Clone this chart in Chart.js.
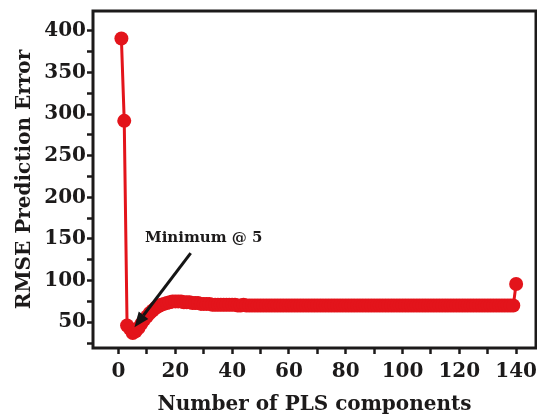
<!DOCTYPE html>
<html>
<head>
<meta charset="utf-8">
<script src="https://cdn.jsdelivr.net/npm/chart.js@4/dist/chart.umd.min.js"></script>
<style>
  html, body { margin: 0; padding: 0; background: #fff; }
  #wrap { width: 537px; height: 417px; }
</style>
</head>
<body>
<div id="wrap"><canvas id="rmseChart" width="537" height="417"></canvas></div>
<script>
// number of PLS components (x) and RMSE prediction error (y)
const components = [];
for (let i = 1; i <= 140; i++) components.push(i);

const rmse = [
  391, 292, 46, 42, 37, 39, 43, 48, 53, 57,
  61, 64, 67, 69, 71, 72, 73, 74, 75, 75,
  75, 75, 74, 74, 74, 73, 73, 73, 72, 72,
  72, 72, 71, 71, 71, 71, 71, 71, 71, 71,
  71, 70, 70, 71, 70, 70, 70, 70, 70, 70,
  70, 70, 70, 70, 70, 70, 70, 70, 70, 70,
  70, 70, 70, 70, 70, 70, 70, 70, 70, 70,
  70, 70, 70, 70, 70, 70, 70, 70, 70, 70,
  70, 70, 70, 70, 70, 70, 70, 70, 70, 70,
  70, 70, 70, 70, 70, 70, 70, 70, 70, 70,
  70, 70, 70, 70, 70, 70, 70, 70, 70, 70,
  70, 70, 70, 70, 70, 70, 70, 70, 70, 70,
  70, 70, 70, 70, 70, 70, 70, 70, 70, 70,
  70, 70, 70, 70, 70, 70, 70, 70, 70, 96
];

const xTicks = [0, 10, 20, 30, 40, 50, 60, 70, 80, 90, 100, 110, 120, 130, 140];
const xLabels = [0, 20, 40, 60, 80, 100, 120, 140];
const yTicks = [25, 50, 75, 100, 125, 150, 175, 200, 225, 250, 275, 300, 325, 350, 375, 400];
const yLabels = [50, 100, 150, 200, 250, 300, 350, 400];

const RED = "#e3141b";
const INK = "#1c1a1a";

// frame + "Minimum @ 5" arrow
const extras = {
  id: "extras",
  afterDatasetsDraw(chart) {
    const { ctx, chartArea: a, scales } = chart;
    const x = scales.x, y = scales.y;
    ctx.save();
    ctx.strokeStyle = INK;
    ctx.lineWidth = 3;
    ctx.strokeRect(a.left, a.top, a.right - a.left, a.bottom - a.top);

    // arrow
    const x0 = x.getPixelForValue(25.4), y0 = y.getPixelForValue(133);
    const x1 = x.getPixelForValue(5.6), y1 = y.getPixelForValue(44);
    const ang = Math.atan2(y1 - y0, x1 - x0);
    const headLen = 15, headW = 6;
    const bx = x1 - headLen * Math.cos(ang), by = y1 - headLen * Math.sin(ang);
    ctx.strokeStyle = "#151515";
    ctx.lineWidth = 3;
    ctx.beginPath();
    ctx.moveTo(x0, y0);
    ctx.lineTo(bx, by);
    ctx.stroke();
    ctx.fillStyle = "#151515";
    ctx.beginPath();
    ctx.moveTo(x1, y1);
    ctx.lineTo(bx + headW * Math.sin(ang), by - headW * Math.cos(ang));
    ctx.lineTo(bx - headW * Math.sin(ang), by + headW * Math.cos(ang));
    ctx.closePath();
    ctx.fill();

    ctx.font = "bold 15px 'DejaVu Serif'";
    ctx.fillStyle = INK;
    ctx.textAlign = "center";
    ctx.textBaseline = "middle";
    ctx.fillText("Minimum @ 5", x.getPixelForValue(30), y.getPixelForValue(151));
    ctx.restore();
  }
};

const tickFont = { family: "'DejaVu Serif'", size: 20, weight: "bold" };

new Chart(document.getElementById("rmseChart").getContext("2d"), {
  type: "line",
  data: {
    labels: components,
    datasets: [{
      data: components.map((c, i) => ({ x: c, y: rmse[i] })),
      borderColor: RED,
      backgroundColor: RED,
      borderWidth: 3,
      pointRadius: 7,
      pointBorderWidth: 0,
      pointBackgroundColor: RED,
      tension: 0
    }]
  },
  options: {
    responsive: false,
    animation: false,
    layout: { autoPadding: false, padding: { top: 11, right: 1, left: 0, bottom: 0 } },
    plugins: { legend: { display: false }, tooltip: { enabled: false } },
    scales: {
      x: {
        type: "linear",
        min: -9,
        max: 147,
        afterBuildTicks: s => { s.ticks = xTicks.map(v => ({ value: v })); },
        afterFit: s => { s.height = 69; s.paddingLeft = 0; s.paddingRight = 0; },
        grid: { drawOnChartArea: false, tickLength: 6, tickWidth: 2.5, tickColor: INK },
        border: { display: false },
        ticks: {
          color: INK,
          font: tickFont,
          padding: 6,
          maxRotation: 0,
          autoSkip: false,
          callback: v => xLabels.includes(v) ? String(v) : ""
        },
        title: {
          display: true,
          text: "Number of PLS components",
          color: INK,
          font: tickFont,
          padding: { top: 7, bottom: 0 }
        }
      },
      y: {
        min: 19,
        max: 424,
        afterBuildTicks: s => { s.ticks = yTicks.map(v => ({ value: v })); },
        afterFit: s => { s.width = 93; s.paddingTop = 0; s.paddingBottom = 0; },
        grid: { drawOnChartArea: false, tickLength: 6, tickWidth: 2.5, tickColor: INK },
        border: { display: false },
        ticks: {
          color: INK,
          font: tickFont,
          padding: 1,
          autoSkip: false,
          callback: v => yLabels.includes(v) ? String(v) : ""
        },
        title: {
          display: true,
          text: "RMSE Prediction Error",
          color: INK,
          font: tickFont,
          padding: { top: 13, bottom: 0 }
        }
      }
    }
  },
  plugins: [extras]
});
</script>
</body>
</html>
